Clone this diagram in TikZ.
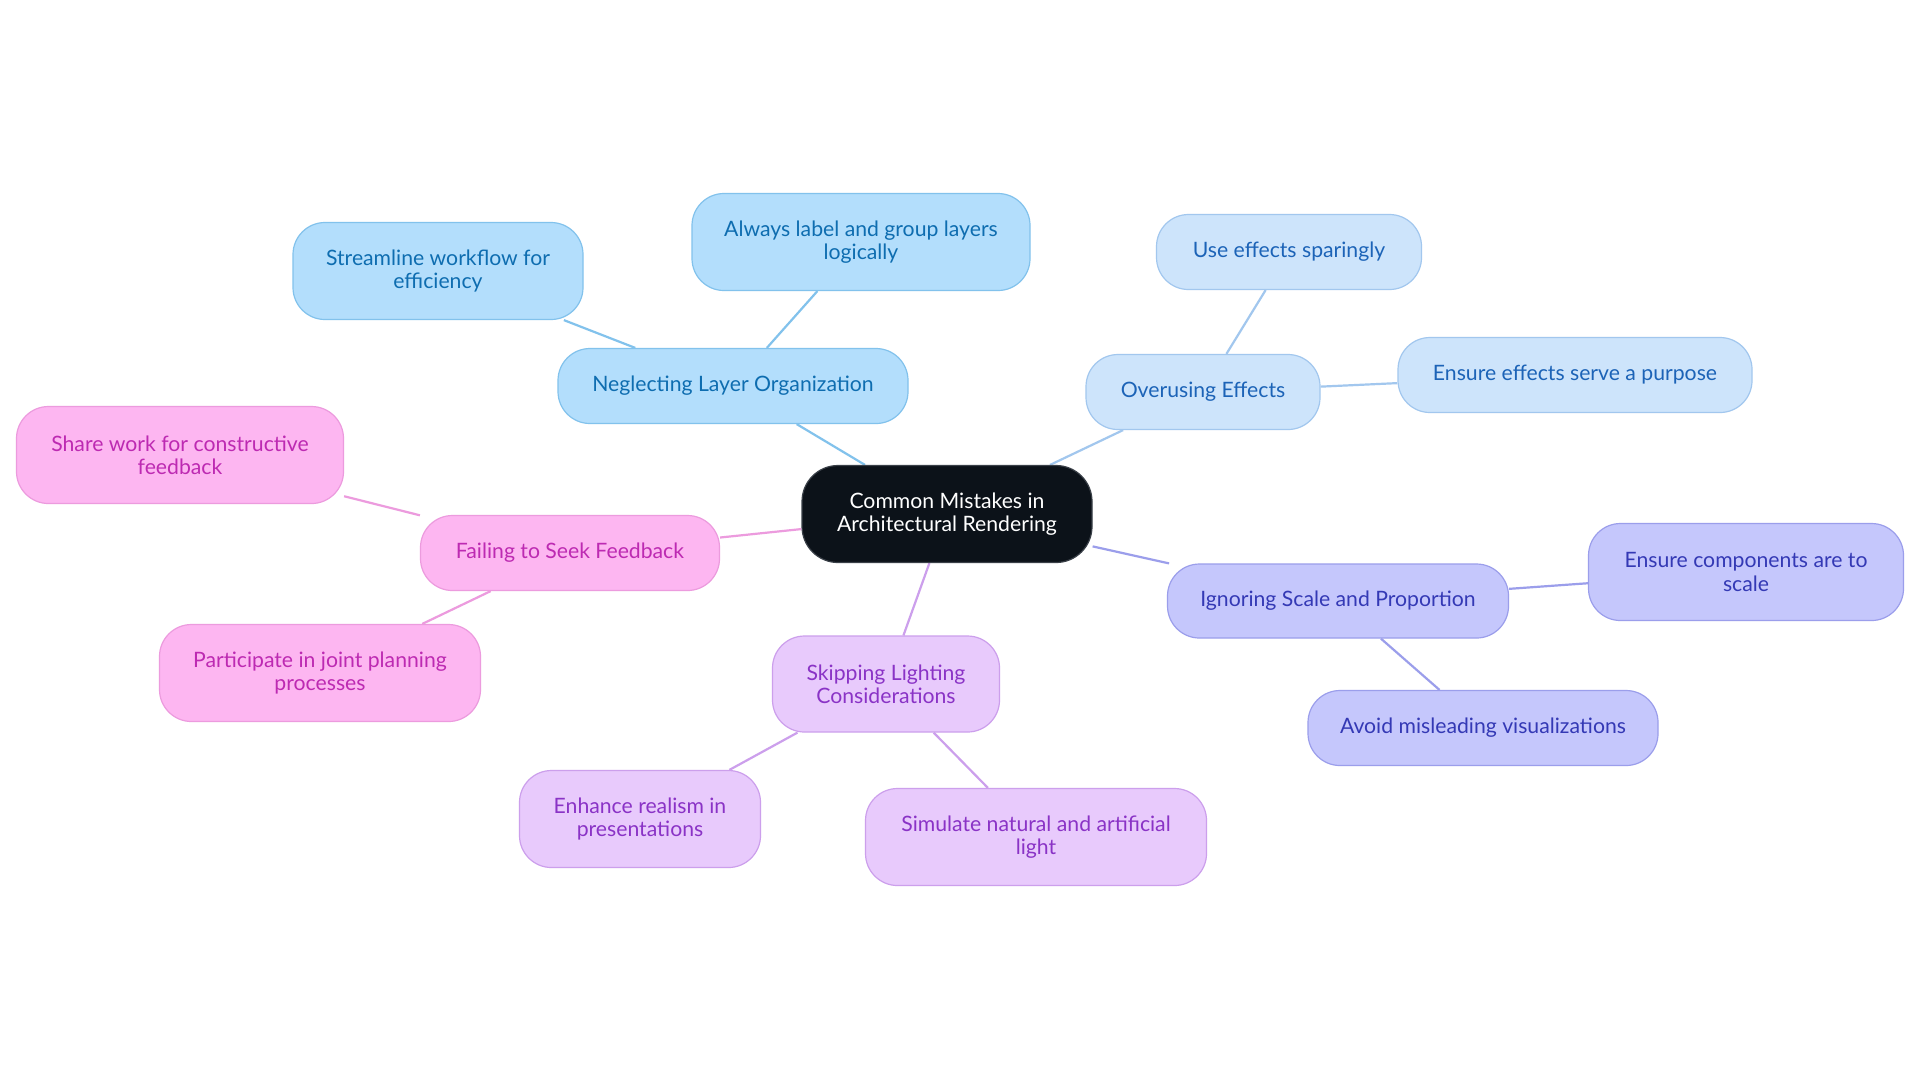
\documentclass[tikz,border=0pt]{standalone}
\usepackage{fontspec}
\setmainfont{Lato}
\usetikzlibrary{backgrounds}
\definecolor{bAfill}{HTML}{B3DEFC}\definecolor{bAtext}{HTML}{0E6DB0}\definecolor{bAline}{HTML}{82C2EC}
\definecolor{bBfill}{HTML}{CDE4FB}\definecolor{bBtext}{HTML}{1C63B7}\definecolor{bBline}{HTML}{A2C7EE}
\definecolor{bCfill}{HTML}{C5C7FC}\definecolor{bCtext}{HTML}{3439B5}\definecolor{bCline}{HTML}{9B9EEB}
\definecolor{bDfill}{HTML}{E8CAFC}\definecolor{bDtext}{HTML}{8A33C6}\definecolor{bDline}{HTML}{CC9FEC}
\definecolor{bEfill}{HTML}{FDB6F1}\definecolor{bEtext}{HTML}{BD2AB2}\definecolor{bEline}{HTML}{EC9BDE}
\definecolor{rootfill}{HTML}{0C1219}\definecolor{rootline}{HTML}{3A4048}
\begin{document}
\begin{tikzpicture}[x=0.5pt,y=-0.5pt,
  box/.style={rounded corners=16pt, line width=0.6pt, align=center,
    font=\fontsize{10.6}{11.6}\selectfont, inner sep=2pt},
  sz/.style 2 args={minimum width=#1*0.5pt, minimum height=#2*0.5pt},
  brA/.style={box, fill=bAfill, draw=bAline, text=bAtext},
  brB/.style={box, fill=bBfill, draw=bBline, text=bBtext},
  brC/.style={box, fill=bCfill, draw=bCline, text=bCtext},
  brD/.style={box, fill=bDfill, draw=bDline, text=bDtext},
  brE/.style={box, fill=bEfill, draw=bEline, text=bEtext},
  rootbox/.style={box, fill=rootfill, draw=rootline, text=white, rounded corners=18pt},
  lnA/.style={draw=bAline, line width=1.1pt},
  lnB/.style={draw=bBline, line width=1.1pt},
  lnC/.style={draw=bCline, line width=1.1pt},
  lnD/.style={draw=bDline, line width=1.1pt},
  lnE/.style={draw=bEline, line width=1.1pt}]
\useasboundingbox (0,0) rectangle (1920,1083);

\node[rootbox, sz={290}{97}] (root) at (947,514) {Common Mistakes in\\Architectural Rendering};

\node[brA, sz={350}{75}] (nlo) at (733,386) {Neglecting Layer Organization};
\node[brA, sz={290}{97}] (swf) at (438,271) {Streamline workflow for\\efficiency};
\node[brA, sz={338}{97}] (alg) at (861,242) {Always label and group layers\\logically};

\node[brB, sz={234}{75}] (ove) at (1203,392) {Overusing Effects};
\node[brB, sz={265}{75}] (ues) at (1289,252) {Use effects sparingly};
\node[brB, sz={354}{75}] (esp) at (1575,375) {Ensure effects serve a purpose};

\node[brC, sz={341}{74}] (isp) at (1338,601) {Ignoring Scale and Proportion};
\node[brC, sz={315}{97}] (ecs) at (1746,572) {Ensure components are to\\scale};
\node[brC, sz={350}{75}] (amv) at (1483,728) {Avoid misleading visualizations};

\node[brD, sz={227}{96}] (slc) at (886,684) {Skipping Lighting\\Considerations};
\node[brD, sz={341}{97}] (sna) at (1036,837) {Simulate natural and artificial\\light};
\node[brD, sz={241}{97}] (erp) at (640,819) {Enhance realism in\\presentations};

\node[brE, sz={299}{75}] (fsf) at (570,553) {Failing to Seek Feedback};
\node[brE, sz={327}{97}] (swc) at (180,455) {Share work for constructive\\feedback};
\node[brE, sz={321}{97}] (pjp) at (320,673) {Participate in joint planning\\processes};

\begin{scope}[on background layer]
\fill[white] (0,0) rectangle (1920,1083);
\draw[lnA] (root) -- (nlo);
\draw[lnA] (nlo) -- (swf);
\draw[lnA] (nlo) -- (alg);
\draw[lnB] (root) -- (ove);
\draw[lnB] (ove) -- (ues);
\draw[lnB] (ove) -- (esp);
\draw[lnC] (root) -- (isp);
\draw[lnC] (isp) -- (ecs);
\draw[lnC] (isp) -- (amv);
\draw[lnD] (root) -- (slc);
\draw[lnD] (slc) -- (sna);
\draw[lnD] (slc) -- (erp);
\draw[lnE] (root) -- (fsf);
\draw[lnE] (fsf) -- (swc);
\draw[lnE] (fsf) -- (pjp);
\end{scope}
\end{tikzpicture}
\end{document}
